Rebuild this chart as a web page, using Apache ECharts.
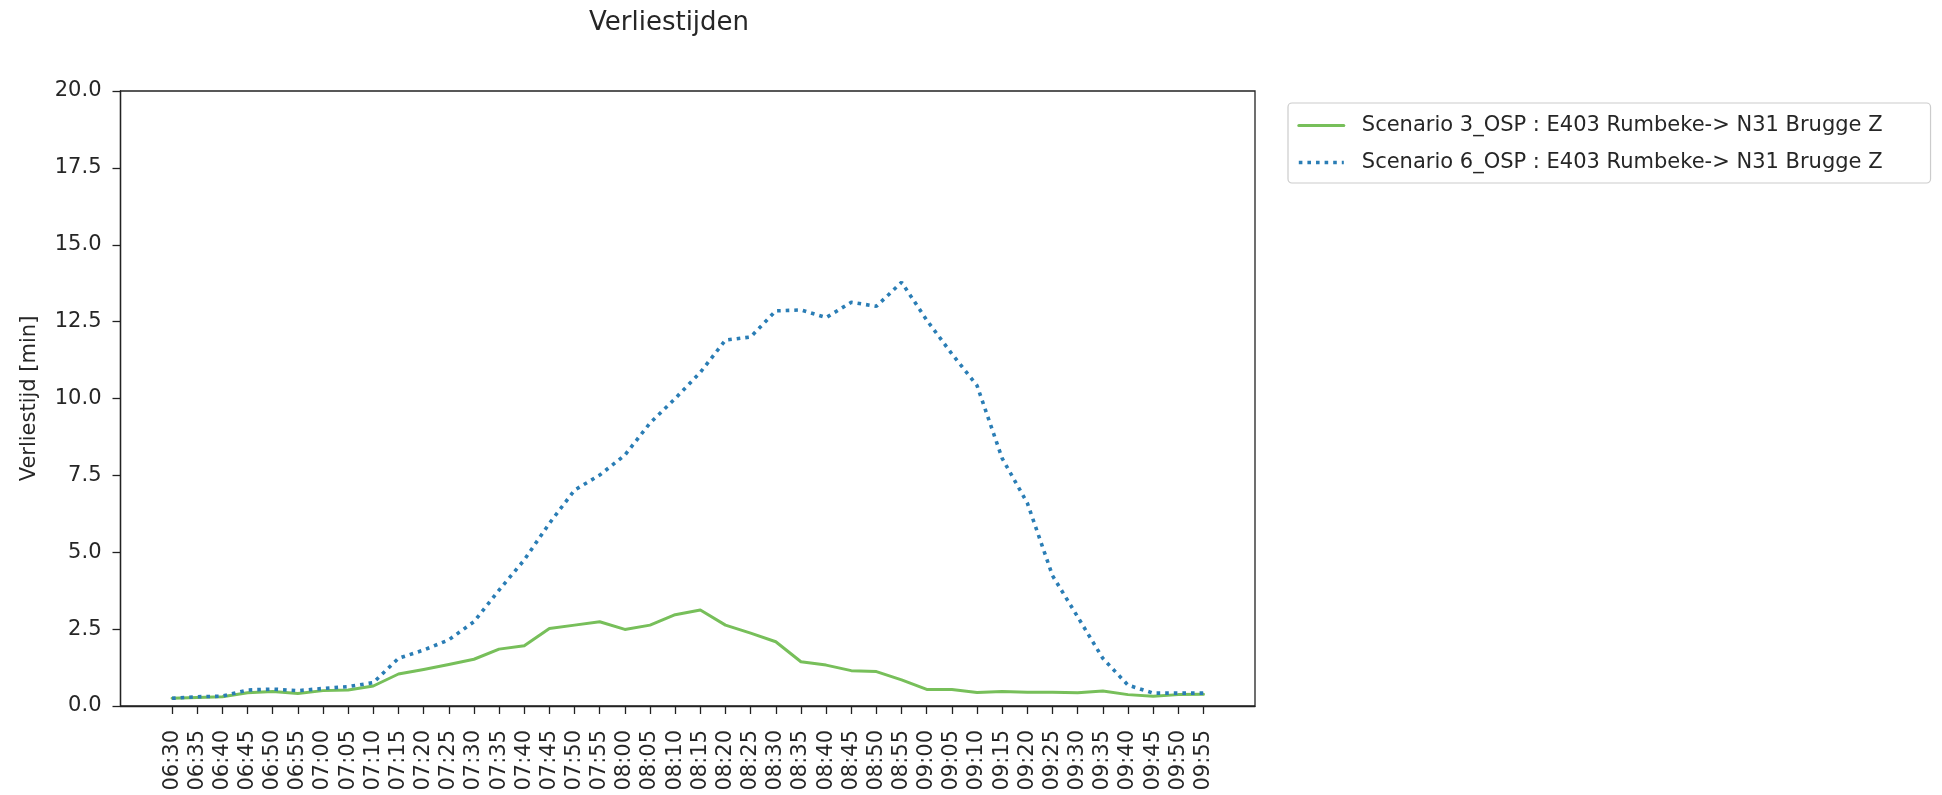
<!DOCTYPE html>
<html>
<head>
<meta charset="utf-8">
<title>Verliestijden</title>
<script src="https://cdn.jsdelivr.net/npm/echarts@6/dist/echarts.min.js"></script>
<style>
  html, body { margin: 0; padding: 0; background: #fff; }
  #chart { width: 1942px; height: 795px; }
</style>
</head>
<body>
<div id="chart"></div>
<script>
// Time slots (5-minute steps)
const times = [
  '06:30','06:35','06:40','06:45','06:50','06:55','07:00','07:05','07:10','07:15',
  '07:20','07:25','07:30','07:35','07:40','07:45','07:50','07:55','08:00','08:05',
  '08:10','08:15','08:20','08:25','08:30','08:35','08:40','08:45','08:50','08:55',
  '09:00','09:05','09:10','09:15','09:20','09:25','09:30','09:35','09:40','09:45',
  '09:50','09:55'
];

// Lost time [min], scenario 3
const scenario3 = [
  0.25, 0.28, 0.30, 0.43, 0.47, 0.41, 0.50, 0.52, 0.65, 1.04,
  1.19, 1.35, 1.52, 1.85, 1.96, 2.52, 2.63, 2.74, 2.49, 2.63,
  2.97, 3.12, 2.63, 2.37, 2.09, 1.44, 1.33, 1.15, 1.12, 0.85,
  0.54, 0.54, 0.44, 0.47, 0.45, 0.45, 0.43, 0.49, 0.37, 0.32,
  0.37, 0.38
];

// Lost time [min], scenario 6
const scenario6 = [
  0.25, 0.30, 0.32, 0.52, 0.55, 0.50, 0.57, 0.63, 0.76, 1.55,
  1.82, 2.15, 2.74, 3.77, 4.75, 5.94, 7.02, 7.51, 8.16, 9.20,
  10.00, 10.85, 11.90, 12.00, 12.85, 12.88, 12.63, 13.13, 13.00, 13.78,
  12.55, 11.45, 10.42, 8.05, 6.60, 4.24, 2.90, 1.55, 0.68, 0.42,
  0.42, 0.42
];

const seriesNames = [
  'Scenario 3_OSP : E403 Rumbeke-> N31 Brugge Z',
  'Scenario 6_OSP : E403 Rumbeke-> N31 Brugge Z'
];

const yTicks = [0, 2.5, 5, 7.5, 10, 12.5, 15, 17.5, 20];

const FONT = 'DejaVu Sans';
const INK = '#262626';
const GREEN = '#77bf5a';
const BLUE = '#2a7db5';

// x positions are slot indices; 5% padding on both sides of the data range
const xIdx = times.map((_, i) => i);
const pad = (times.length - 1) * 0.05;

const chart = echarts.init(document.getElementById('chart'), null, { renderer: 'canvas' });

chart.setOption({
  animation: false,
  backgroundColor: '#ffffff',
  textStyle: { fontFamily: FONT, color: INK },
  title: {
    text: 'Verliestijden',
    left: 584,
    top: 5,
    textStyle: { fontFamily: FONT, fontSize: 26, fontWeight: 'normal', color: INK }
  },
  legend: {
    orient: 'vertical',
    left: 1288,
    top: 103,
    padding: [10, 48, 8, 9],
    itemGap: 12,
    itemWidth: 45,
    itemHeight: 21,
    backgroundColor: 'rgba(255,255,255,0.8)',
    borderColor: '#cccccc',
    borderWidth: 1.2,
    borderRadius: 4,
    itemStyle: { color: 'transparent', borderWidth: 0 },
    textStyle: {
      fontFamily: FONT, fontSize: 21, color: INK,
      lineHeight: 25, padding: [0, 0, 0, 13]
    },
    data: [
      { name: seriesNames[0], lineStyle: { color: GREEN, width: 3, type: 'solid' } },
      { name: seriesNames[1], lineStyle: { color: BLUE, width: 3.6, type: [3.6, 5] } }
    ]
  },
  grid: {
    left: 120.5,
    right: 687,
    top: 91,
    bottom: 89,
    show: true,
    borderColor: '#222',
    borderWidth: 1.3,
    backgroundColor: 'transparent',
    containLabel: false
  },
  xAxis: {
    type: 'value',
    min: -pad,
    max: times.length - 1 + pad,
    axisLine: { show: true, onZero: false, lineStyle: { color: '#222', width: 1.3 } },
    splitLine: { show: false },
    axisTick: {
      show: true, inside: false, length: 8,
      lineStyle: { color: '#222', width: 1.3 },
      customValues: xIdx
    },
    axisLabel: {
      customValues: xIdx,
      rotate: 90,
      margin: 24,
      fontFamily: FONT,
      fontSize: 21,
      color: INK,
      formatter: v => times[Math.round(v)]
    }
  },
  yAxis: {
    type: 'value',
    min: 0,
    max: 20,
    interval: 2.5,
    name: 'Verliestijd [min]',
    nameLocation: 'middle',
    nameGap: 80,
    nameRotate: 90,
    nameTextStyle: { fontFamily: FONT, fontSize: 21, color: INK },
    axisLine: { show: true, onZero: false, lineStyle: { color: '#222', width: 1.3 } },
    splitLine: { show: false },
    axisTick: {
      show: true, inside: false, length: 8,
      lineStyle: { color: '#222', width: 1.3 }
    },
    axisLabel: {
      margin: 19,
      fontFamily: FONT,
      fontSize: 21,
      color: INK,
      formatter: v => v.toFixed(1),
      customValues: yTicks
    }
  },
  series: [
    {
      name: seriesNames[0],
      type: 'line',
      data: scenario3.map((v, i) => [i, v]),
      symbol: 'none',
      lineStyle: { color: GREEN, width: 3, cap: 'round', join: 'round' },
      itemStyle: { color: GREEN },
      z: 2
    },
    {
      name: seriesNames[1],
      type: 'line',
      data: scenario6.map((v, i) => [i, v]),
      symbol: 'none',
      lineStyle: { color: BLUE, width: 3.6, type: [3.6, 5], cap: 'butt' },
      itemStyle: { color: BLUE },
      z: 3
    }
  ]
});
</script>
</body>
</html>
